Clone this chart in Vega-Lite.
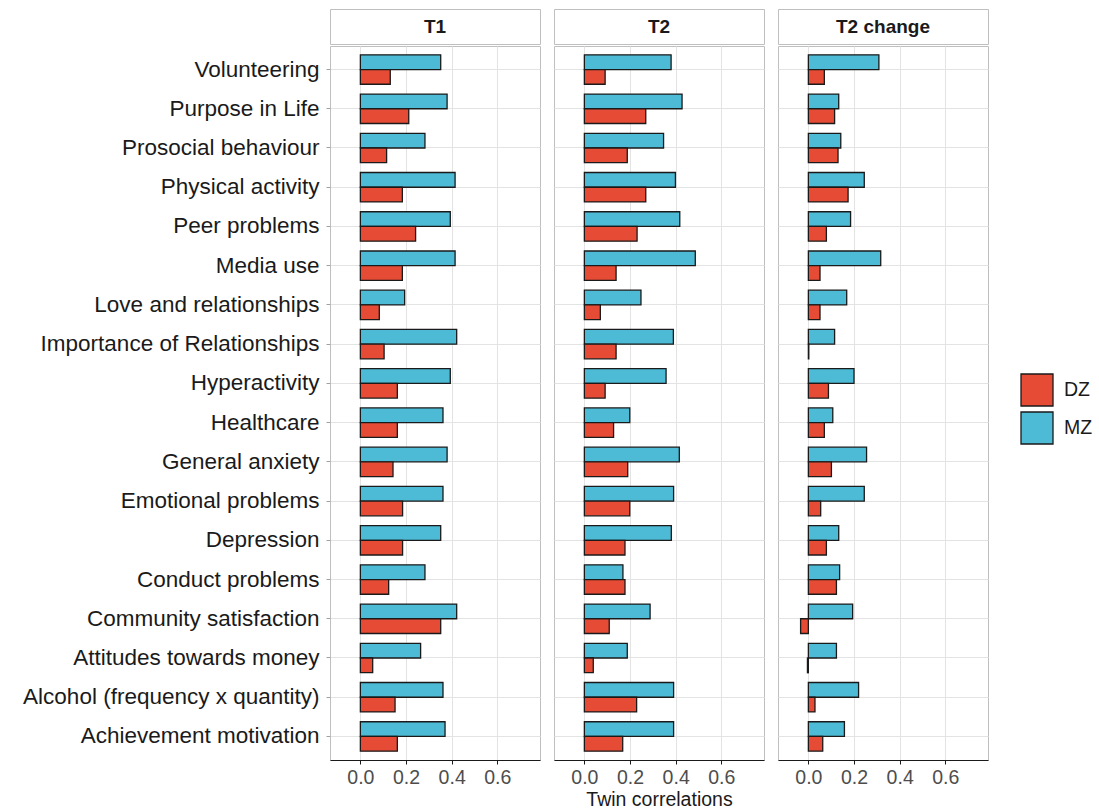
{
  "$schema": "https://vega.github.io/schema/vega-lite/v6.json",
  "padding": {"left": 22, "top": 8, "right": 0, "bottom": 5},
  "background": "white",
  "columns": 3,
  "align": "each",
  "spacing": {"row": 0, "column": 12},
  "resolve": {"scale": {"color": "shared"}, "legend": {"color": "shared"}},
  "config": {
    "font": "Liberation Sans",
    "view": {"stroke": "#BFBFBF", "strokeWidth": 1},
    "axis": {"gridColor": "#E3E3E3", "gridWidth": 1},
    "legend": {
      "orient": "none",
      "legendX": 690,
      "legendY": 364,
      "title": null,
      "padding": 0,
      "symbolType": "square",
      "symbolSize": 1024,
      "symbolStrokeColor": "#1A1A1A",
      "symbolStrokeWidth": 1.3,
      "labelFontSize": 19.5,
      "labelColor": "#1A1A1A",
      "labelOffset": 10,
      "rowPadding": 0
    }
  },
  "datasets": {
    "strips": [{"panel": "T1"}, {"panel": "T2"}, {"panel": "T2 change"}],
    "corr": [
      {"panel": "T1", "trait": "Volunteering", "zyg": "MZ", "r": 0.352},
      {"panel": "T1", "trait": "Volunteering", "zyg": "DZ", "r": 0.131},
      {"panel": "T1", "trait": "Purpose in Life", "zyg": "MZ", "r": 0.380},
      {"panel": "T1", "trait": "Purpose in Life", "zyg": "DZ", "r": 0.212},
      {"panel": "T1", "trait": "Prosocial behaviour", "zyg": "MZ", "r": 0.283},
      {"panel": "T1", "trait": "Prosocial behaviour", "zyg": "DZ", "r": 0.115},
      {"panel": "T1", "trait": "Physical activity", "zyg": "MZ", "r": 0.415},
      {"panel": "T1", "trait": "Physical activity", "zyg": "DZ", "r": 0.184},
      {"panel": "T1", "trait": "Peer problems", "zyg": "MZ", "r": 0.394},
      {"panel": "T1", "trait": "Peer problems", "zyg": "DZ", "r": 0.242},
      {"panel": "T1", "trait": "Media use", "zyg": "MZ", "r": 0.415},
      {"panel": "T1", "trait": "Media use", "zyg": "DZ", "r": 0.184},
      {"panel": "T1", "trait": "Love and relationships", "zyg": "MZ", "r": 0.194},
      {"panel": "T1", "trait": "Love and relationships", "zyg": "DZ", "r": 0.083},
      {"panel": "T1", "trait": "Importance of Relationships", "zyg": "MZ", "r": 0.422},
      {"panel": "T1", "trait": "Importance of Relationships", "zyg": "DZ", "r": 0.104},
      {"panel": "T1", "trait": "Hyperactivity", "zyg": "MZ", "r": 0.394},
      {"panel": "T1", "trait": "Hyperactivity", "zyg": "DZ", "r": 0.162},
      {"panel": "T1", "trait": "Healthcare", "zyg": "MZ", "r": 0.362},
      {"panel": "T1", "trait": "Healthcare", "zyg": "DZ", "r": 0.162},
      {"panel": "T1", "trait": "General anxiety", "zyg": "MZ", "r": 0.380},
      {"panel": "T1", "trait": "General anxiety", "zyg": "DZ", "r": 0.143},
      {"panel": "T1", "trait": "Emotional problems", "zyg": "MZ", "r": 0.362},
      {"panel": "T1", "trait": "Emotional problems", "zyg": "DZ", "r": 0.185},
      {"panel": "T1", "trait": "Depression", "zyg": "MZ", "r": 0.352},
      {"panel": "T1", "trait": "Depression", "zyg": "DZ", "r": 0.185},
      {"panel": "T1", "trait": "Conduct problems", "zyg": "MZ", "r": 0.283},
      {"panel": "T1", "trait": "Conduct problems", "zyg": "DZ", "r": 0.124},
      {"panel": "T1", "trait": "Community satisfaction", "zyg": "MZ", "r": 0.422},
      {"panel": "T1", "trait": "Community satisfaction", "zyg": "DZ", "r": 0.352},
      {"panel": "T1", "trait": "Attitudes towards money", "zyg": "MZ", "r": 0.264},
      {"panel": "T1", "trait": "Attitudes towards money", "zyg": "DZ", "r": 0.054},
      {"panel": "T1", "trait": "Alcohol (frequency x quantity)", "zyg": "MZ", "r": 0.362},
      {"panel": "T1", "trait": "Alcohol (frequency x quantity)", "zyg": "DZ", "r": 0.152},
      {"panel": "T1", "trait": "Achievement motivation", "zyg": "MZ", "r": 0.371},
      {"panel": "T1", "trait": "Achievement motivation", "zyg": "DZ", "r": 0.162},
      {"panel": "T2", "trait": "Volunteering", "zyg": "MZ", "r": 0.380},
      {"panel": "T2", "trait": "Volunteering", "zyg": "DZ", "r": 0.091},
      {"panel": "T2", "trait": "Purpose in Life", "zyg": "MZ", "r": 0.428},
      {"panel": "T2", "trait": "Purpose in Life", "zyg": "DZ", "r": 0.269},
      {"panel": "T2", "trait": "Prosocial behaviour", "zyg": "MZ", "r": 0.347},
      {"panel": "T2", "trait": "Prosocial behaviour", "zyg": "DZ", "r": 0.188},
      {"panel": "T2", "trait": "Physical activity", "zyg": "MZ", "r": 0.399},
      {"panel": "T2", "trait": "Physical activity", "zyg": "DZ", "r": 0.269},
      {"panel": "T2", "trait": "Peer problems", "zyg": "MZ", "r": 0.418},
      {"panel": "T2", "trait": "Peer problems", "zyg": "DZ", "r": 0.231},
      {"panel": "T2", "trait": "Media use", "zyg": "MZ", "r": 0.486},
      {"panel": "T2", "trait": "Media use", "zyg": "DZ", "r": 0.139},
      {"panel": "T2", "trait": "Love and relationships", "zyg": "MZ", "r": 0.248},
      {"panel": "T2", "trait": "Love and relationships", "zyg": "DZ", "r": 0.070},
      {"panel": "T2", "trait": "Importance of Relationships", "zyg": "MZ", "r": 0.390},
      {"panel": "T2", "trait": "Importance of Relationships", "zyg": "DZ", "r": 0.139},
      {"panel": "T2", "trait": "Hyperactivity", "zyg": "MZ", "r": 0.358},
      {"panel": "T2", "trait": "Hyperactivity", "zyg": "DZ", "r": 0.091},
      {"panel": "T2", "trait": "Healthcare", "zyg": "MZ", "r": 0.199},
      {"panel": "T2", "trait": "Healthcare", "zyg": "DZ", "r": 0.128},
      {"panel": "T2", "trait": "General anxiety", "zyg": "MZ", "r": 0.416},
      {"panel": "T2", "trait": "General anxiety", "zyg": "DZ", "r": 0.190},
      {"panel": "T2", "trait": "Emotional problems", "zyg": "MZ", "r": 0.391},
      {"panel": "T2", "trait": "Emotional problems", "zyg": "DZ", "r": 0.199},
      {"panel": "T2", "trait": "Depression", "zyg": "MZ", "r": 0.381},
      {"panel": "T2", "trait": "Depression", "zyg": "DZ", "r": 0.178},
      {"panel": "T2", "trait": "Conduct problems", "zyg": "MZ", "r": 0.169},
      {"panel": "T2", "trait": "Conduct problems", "zyg": "DZ", "r": 0.178},
      {"panel": "T2", "trait": "Community satisfaction", "zyg": "MZ", "r": 0.288},
      {"panel": "T2", "trait": "Community satisfaction", "zyg": "DZ", "r": 0.109},
      {"panel": "T2", "trait": "Attitudes towards money", "zyg": "MZ", "r": 0.188},
      {"panel": "T2", "trait": "Attitudes towards money", "zyg": "DZ", "r": 0.039},
      {"panel": "T2", "trait": "Alcohol (frequency x quantity)", "zyg": "MZ", "r": 0.391},
      {"panel": "T2", "trait": "Alcohol (frequency x quantity)", "zyg": "DZ", "r": 0.229},
      {"panel": "T2", "trait": "Achievement motivation", "zyg": "MZ", "r": 0.391},
      {"panel": "T2", "trait": "Achievement motivation", "zyg": "DZ", "r": 0.168},
      {"panel": "T2 change", "trait": "Volunteering", "zyg": "MZ", "r": 0.309},
      {"panel": "T2 change", "trait": "Volunteering", "zyg": "DZ", "r": 0.070},
      {"panel": "T2 change", "trait": "Purpose in Life", "zyg": "MZ", "r": 0.133},
      {"panel": "T2 change", "trait": "Purpose in Life", "zyg": "DZ", "r": 0.115},
      {"panel": "T2 change", "trait": "Prosocial behaviour", "zyg": "MZ", "r": 0.142},
      {"panel": "T2 change", "trait": "Prosocial behaviour", "zyg": "DZ", "r": 0.130},
      {"panel": "T2 change", "trait": "Physical activity", "zyg": "MZ", "r": 0.245},
      {"panel": "T2 change", "trait": "Physical activity", "zyg": "DZ", "r": 0.174},
      {"panel": "T2 change", "trait": "Peer problems", "zyg": "MZ", "r": 0.185},
      {"panel": "T2 change", "trait": "Peer problems", "zyg": "DZ", "r": 0.079},
      {"panel": "T2 change", "trait": "Media use", "zyg": "MZ", "r": 0.317},
      {"panel": "T2 change", "trait": "Media use", "zyg": "DZ", "r": 0.051},
      {"panel": "T2 change", "trait": "Love and relationships", "zyg": "MZ", "r": 0.168},
      {"panel": "T2 change", "trait": "Love and relationships", "zyg": "DZ", "r": 0.051},
      {"panel": "T2 change", "trait": "Importance of Relationships", "zyg": "MZ", "r": 0.115},
      {"panel": "T2 change", "trait": "Importance of Relationships", "zyg": "DZ", "r": 0.002},
      {"panel": "T2 change", "trait": "Hyperactivity", "zyg": "MZ", "r": 0.200},
      {"panel": "T2 change", "trait": "Hyperactivity", "zyg": "DZ", "r": 0.088},
      {"panel": "T2 change", "trait": "Healthcare", "zyg": "MZ", "r": 0.107},
      {"panel": "T2 change", "trait": "Healthcare", "zyg": "DZ", "r": 0.070},
      {"panel": "T2 change", "trait": "General anxiety", "zyg": "MZ", "r": 0.255},
      {"panel": "T2 change", "trait": "General anxiety", "zyg": "DZ", "r": 0.101},
      {"panel": "T2 change", "trait": "Emotional problems", "zyg": "MZ", "r": 0.245},
      {"panel": "T2 change", "trait": "Emotional problems", "zyg": "DZ", "r": 0.054},
      {"panel": "T2 change", "trait": "Depression", "zyg": "MZ", "r": 0.133},
      {"panel": "T2 change", "trait": "Depression", "zyg": "DZ", "r": 0.079},
      {"panel": "T2 change", "trait": "Conduct problems", "zyg": "MZ", "r": 0.137},
      {"panel": "T2 change", "trait": "Conduct problems", "zyg": "DZ", "r": 0.123},
      {"panel": "T2 change", "trait": "Community satisfaction", "zyg": "MZ", "r": 0.194},
      {"panel": "T2 change", "trait": "Community satisfaction", "zyg": "DZ", "r": -0.034},
      {"panel": "T2 change", "trait": "Attitudes towards money", "zyg": "MZ", "r": 0.123},
      {"panel": "T2 change", "trait": "Attitudes towards money", "zyg": "DZ", "r": -0.004},
      {"panel": "T2 change", "trait": "Alcohol (frequency x quantity)", "zyg": "MZ", "r": 0.220},
      {"panel": "T2 change", "trait": "Alcohol (frequency x quantity)", "zyg": "DZ", "r": 0.029},
      {"panel": "T2 change", "trait": "Achievement motivation", "zyg": "MZ", "r": 0.158},
      {"panel": "T2 change", "trait": "Achievement motivation", "zyg": "DZ", "r": 0.063}
    ]
  },
  "concat": [
    {
      "data": {"name": "strips"},
      "transform": [{"filter": "datum.panel === 'T1'"}],
      "width": 210, "height": 35,
      "view": {"stroke": "#BFBFBF", "strokeWidth": 1, "fill": "white"},
      "mark": {"type": "text", "fontSize": 19, "fontWeight": "bold", "color": "#1A1A1A", "baseline": "middle", "align": "center"},
      "encoding": {"text": {"field": "panel"}}
    },
    {
      "data": {"name": "strips"},
      "transform": [{"filter": "datum.panel === 'T2'"}],
      "width": 210, "height": 35,
      "view": {"stroke": "#BFBFBF", "strokeWidth": 1, "fill": "white"},
      "mark": {"type": "text", "fontSize": 19, "fontWeight": "bold", "color": "#1A1A1A", "baseline": "middle", "align": "center"},
      "encoding": {"text": {"field": "panel"}}
    },
    {
      "data": {"name": "strips"},
      "transform": [{"filter": "datum.panel === 'T2 change'"}],
      "width": 210, "height": 35,
      "view": {"stroke": "#BFBFBF", "strokeWidth": 1, "fill": "white"},
      "mark": {"type": "text", "fontSize": 19, "fontWeight": "bold", "color": "#1A1A1A", "baseline": "middle", "align": "center"},
      "encoding": {"text": {"field": "panel"}}
    },
    {
      "data": {"name": "corr"},
      "transform": [{"filter": "datum.panel === 'T1'"}],
      "width": 210, "height": 714,
      "mark": {"type": "bar", "stroke": "#1A1A1A", "strokeWidth": 1.3},
      "encoding": {
        "y": {"field": "trait", "type": "nominal", "title": null,
          "sort": ["Volunteering", "Purpose in Life", "Prosocial behaviour", "Physical activity", "Peer problems", "Media use", "Love and relationships", "Importance of Relationships", "Hyperactivity", "Healthcare", "General anxiety", "Emotional problems", "Depression", "Conduct problems", "Community satisfaction", "Attitudes towards money", "Alcohol (frequency x quantity)", "Achievement motivation"],
          "scale": {"paddingInner": 0.25, "paddingOuter": 0.225},
          "axis": {"bandPosition": 0.5, "grid": true, "domain": false, "ticks": true, "tickColor": "#A0A0A0", "tickSize": 4, "labelFontSize": 22.5, "labelColor": "#1A1A1A", "labelPadding": 7, "labelLimit": 0}},
        "x": {"field": "r", "type": "quantitative", "title": null,
          "scale": {"domain": [-0.133, 0.787], "nice": false, "zero": false},
          "axis": {"values": [0, 0.2, 0.4, 0.6], "format": ".1f", "grid": true, "domainColor": "#1A1A1A", "tickColor": "#1A1A1A", "tickSize": 4, "labelFontSize": 19.5, "labelColor": "#4D4D4D", "labelPadding": 4}},
        "yOffset": {"field": "zyg", "scale": {"domain": ["MZ", "DZ"]}},
        "color": {"field": "zyg", "type": "nominal", "scale": {"domain": ["DZ", "MZ"], "range": ["#E64B35", "#4DBBD5"]}}
      }
    },
    {
      "data": {"name": "corr"},
      "transform": [{"filter": "datum.panel === 'T2'"}],
      "width": 210, "height": 714,
      "mark": {"type": "bar", "stroke": "#1A1A1A", "strokeWidth": 1.3},
      "encoding": {
        "y": {"field": "trait", "type": "nominal", "title": null,
          "sort": ["Volunteering", "Purpose in Life", "Prosocial behaviour", "Physical activity", "Peer problems", "Media use", "Love and relationships", "Importance of Relationships", "Hyperactivity", "Healthcare", "General anxiety", "Emotional problems", "Depression", "Conduct problems", "Community satisfaction", "Attitudes towards money", "Alcohol (frequency x quantity)", "Achievement motivation"],
          "scale": {"paddingInner": 0.25, "paddingOuter": 0.225},
          "axis": {"bandPosition": 0.5, "grid": true, "domain": false, "ticks": false, "labels": false}},
        "x": {"field": "r", "type": "quantitative", "title": "Twin correlations",
          "scale": {"domain": [-0.133, 0.787], "nice": false, "zero": false},
          "axis": {"values": [0, 0.2, 0.4, 0.6], "format": ".1f", "grid": true, "domainColor": "#1A1A1A", "tickColor": "#1A1A1A", "tickSize": 4, "labelFontSize": 19.5, "labelColor": "#4D4D4D", "labelPadding": 4, "titleFontSize": 19.5, "titleFontWeight": "normal", "titleColor": "#1A1A1A", "titlePadding": 4}},
        "yOffset": {"field": "zyg", "scale": {"domain": ["MZ", "DZ"]}},
        "color": {"field": "zyg", "type": "nominal", "scale": {"domain": ["DZ", "MZ"], "range": ["#E64B35", "#4DBBD5"]}}
      }
    },
    {
      "data": {"name": "corr"},
      "transform": [{"filter": "datum.panel === 'T2 change'"}],
      "width": 210, "height": 714,
      "mark": {"type": "bar", "stroke": "#1A1A1A", "strokeWidth": 1.3},
      "encoding": {
        "y": {"field": "trait", "type": "nominal", "title": null,
          "sort": ["Volunteering", "Purpose in Life", "Prosocial behaviour", "Physical activity", "Peer problems", "Media use", "Love and relationships", "Importance of Relationships", "Hyperactivity", "Healthcare", "General anxiety", "Emotional problems", "Depression", "Conduct problems", "Community satisfaction", "Attitudes towards money", "Alcohol (frequency x quantity)", "Achievement motivation"],
          "scale": {"paddingInner": 0.25, "paddingOuter": 0.225},
          "axis": {"bandPosition": 0.5, "grid": true, "domain": false, "ticks": false, "labels": false}},
        "x": {"field": "r", "type": "quantitative", "title": null,
          "scale": {"domain": [-0.133, 0.787], "nice": false, "zero": false},
          "axis": {"values": [0, 0.2, 0.4, 0.6], "format": ".1f", "grid": true, "domainColor": "#1A1A1A", "tickColor": "#1A1A1A", "tickSize": 4, "labelFontSize": 19.5, "labelColor": "#4D4D4D", "labelPadding": 4}},
        "yOffset": {"field": "zyg", "scale": {"domain": ["MZ", "DZ"]}},
        "color": {"field": "zyg", "type": "nominal", "scale": {"domain": ["DZ", "MZ"], "range": ["#E64B35", "#4DBBD5"]}}
      }
    }
  ]
}
